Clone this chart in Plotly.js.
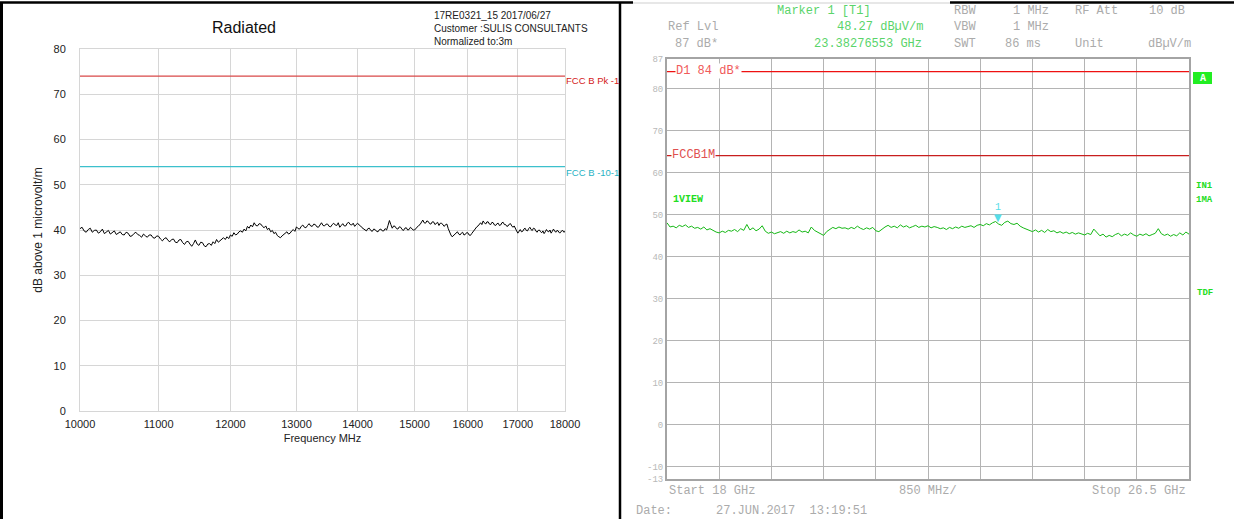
<!DOCTYPE html>
<html>
<head>
<meta charset="utf-8">
<script src="https://cdn.plot.ly/plotly-3.0.1.min.js"></script>
<style>html,body{margin:0;padding:0;background:#fff;}#chart{width:1234px;height:519px;}</style>
</head>
<body>
<div id="chart"></div>
<script>
// ---------- LEFT PANEL DATA (10-18 GHz, MHz, log frequency axis) ----------
const leftStartMHz = 10000;
const leftStepMHz = 25;
const leftLevels = [
  40.3,40.6, 39.8,39.5, 40.1,40.4, 39.5,39.9, 40.0,39.3, 39.6,40.2, 39.2,39.6, 39.9,39.1, 39.4,39.8, 39.0,39.4,
  39.6,39.0, 38.9,39.5, 39.3,38.6, 38.7,39.2, 39.5,39.0, 38.8,38.4, 39.1,38.7, 38.4,38.9, 38.9,38.3, 38.2,38.7,
  38.6,38.0, 37.6,38.1, 38.3,37.7, 37.4,37.9, 38.0,37.3, 37.2,37.8, 37.9,37.2, 36.8,37.4, 37.5,36.9, 36.4,37.0,
  37.8,36.9, 36.6,37.3, 37.2,36.5, 36.3,36.9, 37.0,36.6, 37.4,37.0, 37.9,37.3, 37.6,38.1, 38.3,37.9, 38.5,38.1,
  38.9,38.6, 39.4,38.9, 39.1,39.6, 39.8,39.5, 40.2,39.8, 40.8,40.4, 41.1,40.7, 41.6,41.0, 40.9,41.4, 41.3,40.8,
  40.5,40.9, 40.1,40.4, 39.6,39.9, 39.2,39.5, 38.8,38.5, 38.3,38.7, 39.0,39.4, 39.6,39.1, 39.3,39.8, 40.1,39.7,
  40.7,40.3, 40.2,40.8, 41.1,40.6, 40.5,41.0, 41.4,40.9, 40.8,41.3, 41.2,40.7, 40.6,41.1, 41.6,41.0, 40.9,41.3,
  41.3,40.8, 40.7,41.2, 41.5,41.1, 41.0,41.6, 40.6,41.0, 41.4,40.9, 40.9,41.5, 41.7,41.2, 41.1,41.5, 40.8,41.2,
  41.5,41.1, 40.9,40.5, 40.3,40.0, 39.8,40.3, 40.4,39.9, 39.7,40.2, 40.1,39.7, 39.6,40.1, 40.2,39.8, 39.8,40.3,
  40.0,41.0, 42.1,41.2, 40.4,40.9, 40.8,40.3, 40.2,40.7, 40.6,40.1, 39.9,40.4, 40.5,40.0, 40.1,40.6, 40.3,40.0,
  40.0,40.4, 40.6,41.0, 41.2,41.8, 42.2,41.6, 41.5,42.0, 41.9,41.4, 41.3,41.8, 41.8,41.2, 41.4,41.7, 41.0,41.5,
  41.5,41.0, 40.8,41.2, 41.3,40.3, 39.4,38.9, 38.5,38.8, 39.2,39.5, 39.6,39.1, 38.9,39.3, 39.5,38.9, 39.0,39.4,
  39.4,38.9, 38.8,39.2, 39.6,40.0, 40.3,40.7, 40.9,41.3, 41.6,41.2, 42.0,41.6, 41.3,41.8, 41.8,41.3, 41.2,41.7,
  41.6,41.1, 41.0,41.4, 41.5,41.0, 41.1,41.6, 41.7,41.2, 41.2,40.8, 40.9,41.3, 41.4,40.9, 40.6,40.9, 40.2,39.8,
  39.3,39.7, 40.1,39.6, 39.7,40.2, 40.4,39.9, 39.8,40.3, 40.6,40.1, 39.9,40.4, 40.3,39.8, 39.5,39.9, 40.0,39.6,
  39.4,39.8, 39.2,39.6, 40.1,39.7, 39.6,40.0, 39.3,39.7, 40.2,39.8, 39.5,39.9, 39.8,39.4, 39.4,39.8, 39.9,39.5, 39.7
];
const leftLimitFreqs = [10000, 18000];
const leftLimitPk = [74, 74];
const leftLimitAvg = [54, 54];
const leftTickVals = [10000, 11000, 12000, 13000, 14000, 15000, 16000, 17000, 18000];
const leftTickText = ['10000', '11000', '12000', '13000', '14000', '15000', '16000', '17000', '18000'];
const leftYTicks = [0, 10, 20, 30, 40, 50, 60, 70, 80];

// ---------- RIGHT PANEL DATA (18-26.5 GHz spectrum analyser) ----------
const rightStartGHz = 18;
const rightStepGHz = 0.05;
const rightLevels = [
  48.0, 47.0, 47.2, 46.8, 47.4, 47.1, 47.5, 46.9, 47.2, 46.7,
  46.9, 46.5, 47.0, 46.3, 46.6, 46.1, 45.8, 45.6, 46.0, 45.7,
  46.2, 46.0, 46.4, 45.9, 46.6, 46.2, 47.6, 46.3, 46.8, 46.1,
  46.5, 47.3, 46.0, 45.5, 45.8, 45.4, 45.7, 45.9, 45.5, 46.0,
  45.6, 45.9, 45.7, 46.3, 45.8, 46.0, 45.6, 47.0, 46.2, 45.8,
  45.3, 45.0, 45.9, 46.4, 46.9, 46.6, 47.0, 46.7, 46.8, 46.5,
  46.9, 46.6, 47.2, 46.7, 46.4, 46.8, 46.5, 46.9, 46.1, 45.9,
  46.5, 47.0, 47.4, 46.9, 47.2, 46.8, 47.5, 47.0, 47.3, 46.8,
  47.1, 47.4, 46.9, 47.2, 47.0, 47.3, 46.8, 47.1, 46.9, 46.6,
  46.8, 46.4, 46.9, 46.6, 47.0, 46.7, 47.2, 46.9, 47.1, 47.3,
  46.9, 47.4, 47.6, 47.3, 47.8, 47.5, 48.0, 48.3, 47.7, 47.4,
  48.1, 48.4, 47.8, 47.6, 47.9, 47.2, 46.8, 46.5, 46.2, 45.9,
  46.3, 45.8, 46.2, 45.7, 46.4, 45.9, 46.1, 45.6, 45.9, 45.5,
  45.8, 45.4, 45.7, 45.3, 45.6, 45.4, 45.1, 45.5, 45.2, 46.5,
  45.6, 44.9, 45.3, 44.6, 45.0, 44.7, 45.2, 45.5, 44.9, 45.3,
  45.0, 45.6, 45.1, 44.8, 45.3, 45.0, 45.4, 44.9, 45.2, 45.5,
  46.6, 45.4, 45.0, 45.3, 44.8, 45.2, 44.9, 45.6, 45.1, 45.8, 45.3
];
const rightLineFreqs = [18, 26.5];
const rightD1 = [84, 84];
const rightFCCB1M = [64, 64];
const markerFreq = [23.38276553];
const markerLevel = [48.27];
const rightYTicks = [87, 80, 70, 60, 50, 40, 30, 20, 10, 0, -10, -13];
const rightYTickText = ['87', '80', '70', '60', '50', '40', '30', '20', '10', '0', '-10', '-13'];

// ---------- helpers: page pixel -> paper fraction ----------
const W = 1234, H = 519;
const px = v => v / W;
const py = v => 1 - v / H;

const SANS = 'Liberation Sans, Arial, Helvetica, sans-serif';
const MONO = 'Liberation Mono, Courier New, monospace';
const GRAY = '#ababab';
const LGREEN = '#5ad46a';
const BGREEN = '#22dd22';

const traces = [
  {x: leftLimitFreqs, y: leftLimitPk, xaxis: 'x', yaxis: 'y', mode: 'lines',
   line: {color: '#d94848', width: 1.2}, hoverinfo: 'skip', name: 'FCC B Pk'},
  {x: leftLimitFreqs, y: leftLimitAvg, xaxis: 'x', yaxis: 'y', mode: 'lines',
   line: {color: '#3cc0cc', width: 1.2}, hoverinfo: 'skip', name: 'FCC B'},
  {x0: leftStartMHz, dx: leftStepMHz, y: leftLevels, xaxis: 'x', yaxis: 'y', mode: 'lines',
   line: {color: '#000000', width: 1}, name: 'Radiated'},
  {x: rightLineFreqs, y: rightD1, xaxis: 'x2', yaxis: 'y2', mode: 'lines',
   line: {color: '#ee1111', width: 1.2}, hoverinfo: 'skip', name: 'D1'},
  {x: rightLineFreqs, y: rightFCCB1M, xaxis: 'x2', yaxis: 'y2', mode: 'lines',
   line: {color: '#c81e1e', width: 1.2}, hoverinfo: 'skip', name: 'FCCB1M'},
  {x0: rightStartGHz, dx: rightStepGHz, y: rightLevels, xaxis: 'x2', yaxis: 'y2', mode: 'lines',
   line: {color: '#14b814', width: 1}, name: '1VIEW'}
];

function txt(text, x, y, opts) {
  return Object.assign({
    text: text, xref: 'paper', yref: 'paper', x: px(x), y: py(y),
    xanchor: 'left', yanchor: 'middle', showarrow: false,
    font: {family: MONO, size: 12, color: GRAY}
  }, opts || {});
}

const annotations = [
  // left panel header
  txt('17RE0321_15 2017/06/27<br>Customer :SULIS CONSULTANTS<br>Normalized to:3m', 432, 29,
      {font: {family: SANS, size: 10, color: '#222'}, align: 'left'}),
  txt('FCC B Pk -1', 564, 81, {font: {family: SANS, size: 9.5, color: '#d42020'}}),
  txt('FCC B -10-1', 564, 172, {font: {family: SANS, size: 9.5, color: '#1fb2c4'}}),
  // right panel header
  txt('Marker 1 [T1]', 775, 11, {font: {family: MONO, size: 12, color: LGREEN}}),
  txt('RBW', 952, 11), txt('1 MHz', 1011, 11), txt('RF Att', 1073, 11), txt('10 dB', 1147, 11),
  txt('Ref Lvl', 666, 27), txt('48.27 dBµV/m', 835, 27, {font: {family: MONO, size: 12, color: LGREEN}}),
  txt('VBW', 952, 27), txt('1 MHz', 1011, 27),
  txt('87 dB*', 673, 44), txt('23.38276553 GHz', 812, 44, {font: {family: MONO, size: 12, color: LGREEN}}),
  txt('SWT', 952, 44), txt('86 ms', 1003, 44), txt('Unit', 1073, 44), txt('dBµV/m', 1146, 44),
  // right panel line labels
  txt('D1 84 dB*', 675, 71, {font: {family: MONO, size: 12, color: '#f05a5a'}, bgcolor: '#ffffff', borderpad: 0}),
  txt('FCCB1M', 671, 155, {font: {family: MONO, size: 12, color: '#e05050'}, bgcolor: '#ffffff', borderpad: 0}),
  txt('<b>1VIEW</b>', 671, 200, {font: {family: MONO, size: 10, color: BGREEN}}),
  txt('<b>A</b>', 1202.5, 78, {xanchor: 'center', font: {family: MONO, size: 10, color: '#ffffff'}}),
  txt('<b>IN1</b>', 1194, 186, {font: {family: MONO, size: 9, color: BGREEN}}),
  txt('<b>1MA</b>', 1194, 200, {font: {family: MONO, size: 9, color: BGREEN}}),
  txt('<b>TDF</b>', 1195, 293, {font: {family: MONO, size: 9, color: BGREEN}}),
  // marker
  {text: '1', xref: 'x2', yref: 'y2', x: markerFreq[0], y: markerLevel[0],
   xanchor: 'center', yanchor: 'bottom', showarrow: false, yshift: 7,
   font: {family: MONO, size: 10, color: '#55dde8'}},
  {text: '▼', xref: 'x2', yref: 'y2', x: markerFreq[0], y: markerLevel[0],
   xanchor: 'center', yanchor: 'bottom', showarrow: false, yshift: -3,
   font: {family: 'DejaVu Sans, sans-serif', size: 10, color: '#55dde8'}},
  // bottom texts
  txt('Start 18 GHz', 667, 491), txt('850 MHz/', 928, 491, {xanchor: 'center'}),
  txt('Stop 26.5 GHz', 1188, 491, {xanchor: 'right'}),
  txt('Date:', 634, 511), txt('27.JUN.2017  13:19:51', 714, 511)
];

const shapes = [
  // panel borders
  {type: 'line', xref: 'paper', yref: 'paper', x0: px(1.5), x1: px(1.5), y0: 0, y1: py(2), line: {color: '#000', width: 3}},
  {type: 'line', xref: 'paper', yref: 'paper', x0: 0, x1: px(633), y0: py(2.5), y1: py(2.5), line: {color: '#000', width: 2.5}},
  {type: 'line', xref: 'paper', yref: 'paper', x0: px(633), x1: px(950), y0: py(3), y1: py(3), line: {color: '#cfcfcf', width: 1}},
  {type: 'line', xref: 'paper', yref: 'paper', x0: px(950), x1: 1, y0: py(2.5), y1: py(2.5), line: {color: '#000', width: 2.5}},
  {type: 'line', xref: 'paper', yref: 'paper', x0: px(620), x1: px(620), y0: 0, y1: py(2), line: {color: '#000', width: 2.5}},
  // "A" badge
  {type: 'rect', xref: 'paper', yref: 'paper', x0: px(1193), x1: px(1212), y0: py(84), y1: py(72),
   fillcolor: '#22ee22', line: {width: 0}}
];

const layout = {
  width: W, height: H,
  margin: {l: 0, r: 0, t: 0, b: 0, pad: 0},
  paper_bgcolor: '#ffffff', plot_bgcolor: '#ffffff',
  showlegend: false,
  title: {text: 'Radiated', xref: 'paper', yref: 'paper', x: px(244), y: py(27),
          xanchor: 'center', yanchor: 'middle', font: {family: SANS, size: 16, color: '#111'}},
  xaxis: {
    domain: [px(80), px(565)], anchor: 'y', type: 'log',
    range: [Math.log10(leftTickVals[0]), Math.log10(leftTickVals[leftTickVals.length - 1])],
    tickmode: 'array', tickvals: leftTickVals, ticktext: leftTickText,
    ticks: 'outside', ticklen: 3, tickcolor: 'rgba(0,0,0,0)',
    tickfont: {family: SANS, size: 11, color: '#222'},
    showgrid: true, gridcolor: '#d6d6d6', gridwidth: 1,
    showline: true, linecolor: '#d6d6d6', linewidth: 1, mirror: true, zeroline: false,
    title: {text: 'Frequency MHz', standoff: 5, font: {family: SANS, size: 11, color: '#222'}}
  },
  yaxis: {
    domain: [py(411), py(49)], anchor: 'x', range: [0, 80],
    tickmode: 'array', tickvals: leftYTicks,
    ticks: 'outside', ticklen: 11, tickcolor: 'rgba(0,0,0,0)',
    tickfont: {family: SANS, size: 11, color: '#222'},
    showgrid: true, gridcolor: '#d6d6d6', gridwidth: 1,
    showline: true, linecolor: '#d6d6d6', linewidth: 1, mirror: true, zeroline: false,
    title: {text: 'dB above 1 microvolt/m', standoff: 8, font: {family: SANS, size: 12, color: '#222'}}
  },
  xaxis2: {
    domain: [px(667), px(1189)], anchor: 'y2', range: [rightStartGHz, 26.5],
    tick0: rightStartGHz, dtick: 0.85, showticklabels: false, ticks: '',
    showgrid: true, gridcolor: '#b4b4b4', gridwidth: 1,
    showline: true, linecolor: '#a4a4a4', linewidth: 2, mirror: true, zeroline: false
  },
  yaxis2: {
    domain: [py(479), py(59)], anchor: 'x2', range: [-13, 87],
    tickmode: 'array', tickvals: rightYTicks, ticktext: rightYTickText,
    ticks: '', tickfont: {family: MONO, size: 9, color: '#b8b8b8'},
    showgrid: true, gridcolor: '#b4b4b4', gridwidth: 1,
    showline: true, linecolor: '#a4a4a4', linewidth: 2, mirror: true, zeroline: false
  },
  annotations: annotations,
  shapes: shapes
};

Plotly.newPlot('chart', traces, layout, {displayModeBar: false, staticPlot: true});
</script>
</body>
</html>
